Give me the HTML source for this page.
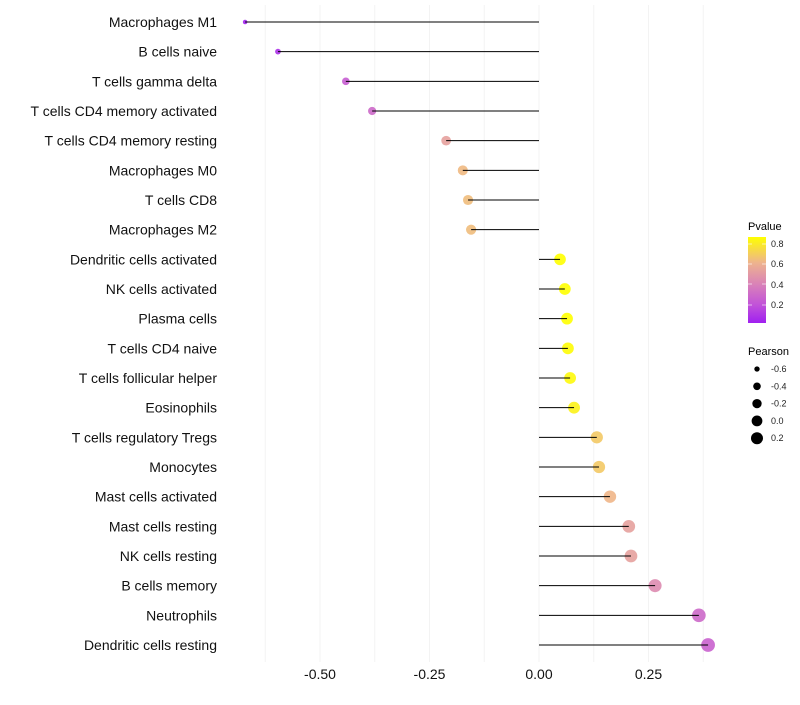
<!DOCTYPE html>
<html><head><meta charset="utf-8"><style>
body{margin:0;background:#fff;font-family:"Liberation Sans",sans-serif}
</style></head><body>
<svg id="chart" width="800" height="700" xmlns="http://www.w3.org/2000/svg" font-family="Liberation Sans, sans-serif">
<defs><linearGradient id="pg" x1="0" y1="1" x2="0" y2="0">
<stop offset="0" stop-color="#A020F0"/><stop offset="0.21" stop-color="#C152D9"/><stop offset="0.45" stop-color="#D982B8"/><stop offset="0.7" stop-color="#EEB38E"/><stop offset="1" stop-color="#FFFF00"/></linearGradient></defs>
<g id="grid"></g><g id="marks"></g><g id="labels"></g>
<g>
<text x="748" y="230" font-size="11" fill="#000">Pvalue</text>
<rect x="748" y="237" width="18" height="86" fill="url(#pg)"/>
<g font-size="9" fill="#222"><text x="771" y="247">0.8</text><text x="771" y="267">0.6</text><text x="771" y="288">0.4</text><text x="771" y="308">0.2</text></g>
<g stroke="#fff" stroke-opacity="0.6"><line x1="748" x2="752" y1="244" y2="244"/><line x1="762" x2="766" y1="244" y2="244"/><line x1="748" x2="752" y1="264" y2="264"/><line x1="762" x2="766" y1="264" y2="264"/><line x1="748" x2="752" y1="284" y2="284"/><line x1="762" x2="766" y1="284" y2="284"/><line x1="748" x2="752" y1="305" y2="305"/><line x1="762" x2="766" y1="305" y2="305"/></g>
</g>
<g id="sizeleg"><text x="748" y="355" font-size="11" fill="#000">Pearson</text></g>
</svg>
<script>
const cells=["Macrophages M1","B cells naive","T cells gamma delta","T cells CD4 memory activated","T cells CD4 memory resting","Macrophages M0","T cells CD8","Macrophages M2","Dendritic cells activated","NK cells activated","Plasma cells","T cells CD4 naive","T cells follicular helper","Eosinophils","T cells regulatory  Tregs ","Monocytes","Mast cells activated","Mast cells resting","NK cells resting","B cells memory","Neutrophils","Dendritic cells resting"];
const pearson=[-0.671,-0.596,-0.441,-0.381,-0.212,-0.174,-0.162,-0.155,0.048,0.059,0.064,0.066,0.071,0.080,0.132,0.137,0.162,0.205,0.21,0.265,0.365,0.386];
const pvalue=[0.03,0.08,0.25,0.3,0.55,0.65,0.66,0.66,0.9,0.88,0.87,0.86,0.85,0.83,0.7,0.7,0.64,0.55,0.55,0.45,0.3,0.27];
const xTicks=[-0.5,-0.25,0,0.25];
const xTickLabels=["-0.50","-0.25","0.00","0.25"];
const sizeLegend=[-0.6,-0.4,-0.2,0.0,0.2];
const sizeLegendLabels=["-0.6","-0.4","-0.2","0.0","0.2"];
const NS="http://www.w3.org/2000/svg";
const X=v=>539+v*438, Y=i=>22+i*29.667;
const R=v=>Math.sqrt(Math.max(2.2,8+40*(v+0.6)));
const stops=[[0.02,[160,32,240]],[0.2,[193,82,217]],[0.41,[217,130,184]],[0.63,[238,179,142]],[0.87,[255,255,0]]];
function col(p){if(p<=stops[0][0])return rgb(stops[0][1]);for(let k=1;k<stops.length;k++){if(p<=stops[k][0]){const t=(p-stops[k-1][0])/(stops[k][0]-stops[k-1][0]);return rgb(stops[k-1][1].map((c,j)=>c+(stops[k][1][j]-c)*t));}}return rgb(stops[stops.length-1][1]);}
function rgb(a){return "rgb("+a.map(Math.round).join(",")+")";}
function mk(t,a,p){const e=document.createElementNS(NS,t);for(const k in a)e.setAttribute(k,a[k]);p.appendChild(e);return e;}
const grid=document.getElementById('grid'),marks=document.getElementById('marks'),labels=document.getElementById('labels');
for(let v=-0.625;v<=0.38;v+=0.125){const g=mk('line',{x1:X(v),x2:X(v),y1:5,y2:662,stroke:'#f3f3f3','stroke-width':1},grid);

}
xTicks.forEach((v,i)=>{const t=mk('text',{x:X(v),y:679,'font-size':14,'text-anchor':'middle',fill:'#111'},labels);t.textContent=xTickLabels[i];

});
cells.forEach((c,i)=>{const y=Y(i);
const t=mk('text',{x:217,y:y+5,'font-size':14,'text-anchor':'end',fill:'#111'},labels);t.textContent=c;


const pt=mk('circle',{cx:X(pearson[i]),cy:y,r:R(pearson[i]),fill:col(pvalue[i]),'fill-opacity':0.9},marks);


const l=mk('line',{x1:X(0),x2:X(pearson[i]),y1:y,y2:y,stroke:'#000','stroke-width':1},marks);

});
const sl=document.getElementById('sizeleg');
sizeLegend.forEach((v,i)=>{const y=369+i*17.3;
const c=mk('circle',{cx:757,cy:y,r:R(v)*0.95,fill:'#000'},sl);


const t=mk('text',{x:771,y:y+3,'font-size':9,fill:'#222'},sl);t.textContent=sizeLegendLabels[i];

});
</script>
</body></html>
